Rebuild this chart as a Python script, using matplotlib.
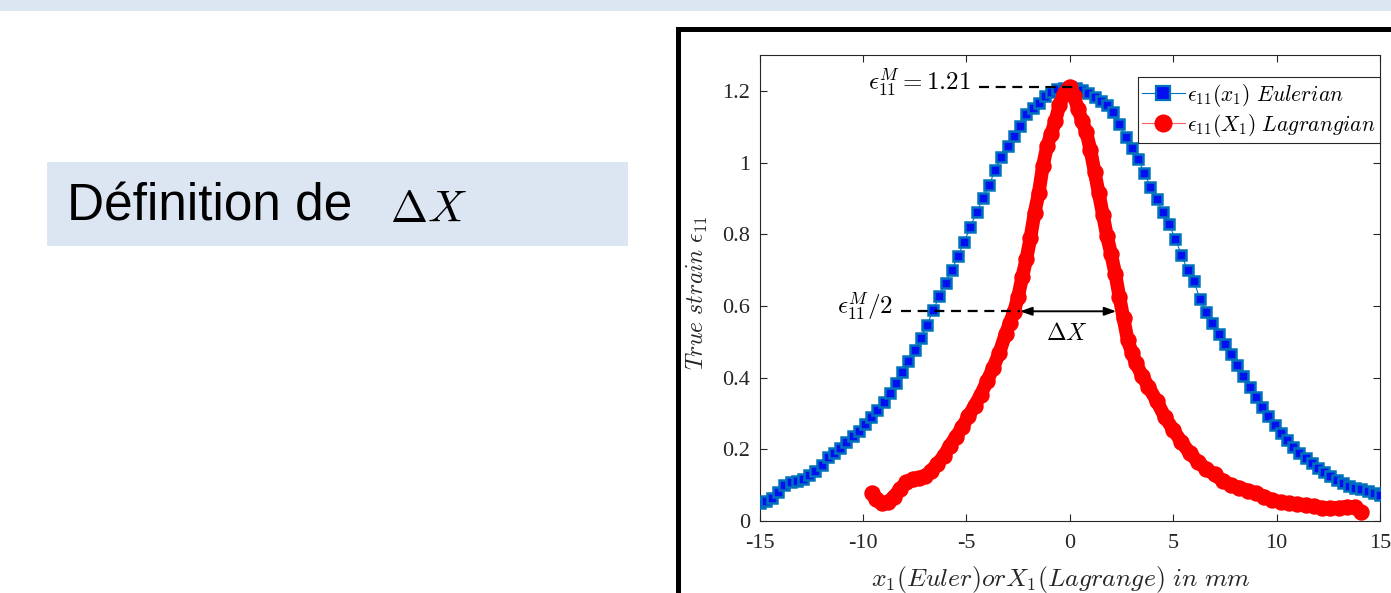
import numpy as np
import matplotlib
matplotlib.use("Agg")
import matplotlib.pyplot as plt
from matplotlib.patches import Rectangle
from matplotlib.lines import Line2D

plt.rcParams['mathtext.fontset'] = 'cm'
plt.rcParams['axes.unicode_minus'] = False

# ---------------- data ----------------
x_euler = [-15.0 + 0.3 * i for i in range(101)]
eps_euler = [
    0.050, 0.055, 0.065, 0.082, 0.100, 0.110, 0.112, 0.118, 0.128, 0.140,
    0.155, 0.178, 0.190, 0.203, 0.220, 0.236, 0.252, 0.270, 0.290, 0.311,
    0.333, 0.358, 0.385, 0.416, 0.446, 0.477, 0.510, 0.548, 0.588, 0.628,
    0.665, 0.700, 0.740, 0.779, 0.821, 0.862, 0.900, 0.937, 0.980, 1.015,
    1.045, 1.075, 1.101, 1.135, 1.152, 1.166, 1.185, 1.198, 1.205, 1.209,
    1.210, 1.208, 1.203, 1.195, 1.184, 1.172, 1.160, 1.142, 1.108, 1.072,
    1.040, 1.010, 0.972, 0.933, 0.898, 0.862, 0.828, 0.788, 0.742, 0.700,
    0.670, 0.618, 0.582, 0.551, 0.522, 0.493, 0.466, 0.436, 0.405, 0.374,
    0.346, 0.318, 0.293, 0.268, 0.246, 0.225, 0.206, 0.190, 0.175, 0.161,
    0.148, 0.136, 0.125, 0.114, 0.105, 0.099, 0.093, 0.088, 0.083, 0.078,
    0.073]

x_lagr = [-9.55, -9.35, -9.1, -8.8, -8.5, -8.2, -7.9, -7.6, -7.3, -7.0,
          -6.7, -6.4, -6.1, -5.8, -5.5, -5.2, -4.9, -4.6, -4.3, -4.0,
          -3.7, -3.4, -3.1, -2.9, -2.7, -2.5, -2.3, -2.1, -1.9, -1.7,
          -1.5, -1.3, -1.1, -0.9, -0.7, -0.5, -0.3, -0.1, 0.0,
          0.2, 0.4, 0.6, 0.8, 1.0, 1.2, 1.4, 1.6, 1.8, 2.0,
          2.2, 2.4, 2.6, 2.8, 3.0, 3.2, 3.5, 3.8, 4.2, 4.6,
          5.0, 5.4, 5.8, 6.2, 6.6, 7.0, 7.4, 7.8, 8.2, 8.6,
          9.0, 9.4, 9.8, 10.2, 10.6, 11.0, 11.4, 11.8, 12.2, 12.6,
          13.0, 13.4, 13.8, 14.1]
eps_lagr = [0.078, 0.060, 0.050, 0.052, 0.068, 0.090, 0.108, 0.118, 0.120, 0.125,
            0.140, 0.160, 0.180, 0.210, 0.235, 0.262, 0.292, 0.322, 0.352, 0.390,
            0.428, 0.470, 0.522, 0.552, 0.583, 0.625, 0.680, 0.730, 0.790, 0.860,
            0.915, 0.990, 1.045, 1.080, 1.115, 1.160, 1.190, 1.205, 1.212,
            1.185, 1.150, 1.115, 1.085, 1.035, 0.975, 0.915, 0.855, 0.795, 0.745,
            0.690, 0.625, 0.565, 0.505, 0.470, 0.440, 0.405, 0.375, 0.335, 0.290,
            0.255, 0.220, 0.190, 0.165, 0.145, 0.130, 0.112, 0.100, 0.093, 0.085,
            0.078, 0.068, 0.058, 0.053, 0.050, 0.047, 0.045, 0.041, 0.037, 0.036,
            0.037, 0.040, 0.038, 0.025]

eps_max = 1.21
half_level = 0.585          # drawn level of the eps_max/2 guide line
x_top_guide = (-4.4, 0.15)
x_half_guide = (-8.15, -2.4)
x_arrow = (-2.4, 2.25)

x_ticks = [-15, -10, -5, 0, 5, 10, 15]
y_ticks = [0, 0.2, 0.4, 0.6, 0.8, 1.0, 1.2]
y_ticklabels = ['0', '0.2', '0.4', '0.6', '0.8', '1', '1.2']

# ---------------- figure ----------------
W, H = 1391, 593
fig = plt.figure(figsize=(W / 100, H / 100), dpi=100)
fig.patch.set_facecolor('white')

def fx(px):
    return px / W

def fy(py):
    return 1 - py / H

slide_blue = '#DCE6F2'
# top strip
fig.patches.append(Rectangle((0, fy(11)), 1, 11 / H, transform=fig.transFigure,
                             facecolor=slide_blue, edgecolor='none', zorder=0))
# title box
fig.patches.append(Rectangle((fx(47), fy(246)), fx(628) - fx(47), (246 - 162) / H,
                             transform=fig.transFigure, facecolor=slide_blue,
                             edgecolor='none', zorder=0))
fig.text(fx(67), fy(207), 'Définition de', fontsize=37, family='Liberation Sans',
         va='center', ha='left', color='black')
fig.text(fx(390), fy(209), r'$\Delta X$', fontsize=32, va='center', ha='left',
         color='black')

# black frame around the figure image
fig.patches.append(Rectangle((fx(678), fy(620)), fx(1420) - fx(678), (620 - 28.5) / H,
                             transform=fig.transFigure, facecolor='none',
                             edgecolor='black', linewidth=3.6, zorder=1))

ax = fig.add_axes([fx(759.5), fy(521), fx(1380) - fx(759.5), (521 - 55) / H])
ax.set_xlim(-15, 15)
ax.set_ylim(0, 1.3)

ax.plot(x_euler, eps_euler, color='#0072BD', lw=0.8, marker='s', markersize=7.6,
        markerfacecolor='#0010F0', markeredgecolor='#0072BD', markeredgewidth=1.8,
        zorder=3)
ax.plot(x_lagr, eps_lagr, color='#FF0000', lw=9.8, solid_capstyle='round',
        solid_joinstyle='round', zorder=4)
ax.plot(x_lagr, eps_lagr, color='#FF0000', lw=0, marker='o', markersize=10.8,
        markerfacecolor='#FF0000', markeredgecolor='#FF0000', zorder=4)

# guides
ax.plot(list(x_top_guide), [eps_max, eps_max], color='black', lw=1.6,
        dashes=(4.5, 3), zorder=5)
ax.plot(list(x_half_guide), [half_level, half_level], color='black', lw=1.6,
        dashes=(4.5, 3), zorder=5)
ax.annotate('', xy=(x_arrow[1], half_level), xytext=(x_arrow[0], half_level),
            arrowprops=dict(arrowstyle='<|-|>,head_length=0.7,head_width=0.25',
                            color='black', lw=1.4, shrinkA=0, shrinkB=0), zorder=6)
ax.text(-4.75, 1.222, r'$\epsilon_{11}^{M}=1.21$', fontsize=18, ha='right',
        va='center', color='black', zorder=6)
ax.text(-8.55, 0.598, r'$\epsilon_{11}^{M}/2$', fontsize=18, ha='right',
        va='center', color='black', zorder=6)
ax.text(-0.15, 0.525, r'$\Delta X$', fontsize=17, ha='center', va='center',
        color='black', zorder=6)

# axes styling (MATLAB look)
tick_color = '#262626'
for sp in ax.spines.values():
    sp.set_linewidth(0.8)
    sp.set_color(tick_color)
ax.set_xticks(x_ticks)
ax.set_xticklabels([str(v) for v in x_ticks])
ax.set_yticks(y_ticks)
ax.set_yticklabels(y_ticklabels)
ax.tick_params(direction='in', length=5, width=0.8, colors=tick_color,
               top=True, right=True, labelsize=16)
ax.tick_params(axis='x', pad=9)
ax.tick_params(axis='y', pad=7)
for lab in ax.get_xticklabels() + ax.get_yticklabels():
    lab.set_family('Liberation Serif')

ax.set_xlabel(r'$x_1(Euler) or X_1(Lagrange)\ in\ mm$', fontsize=18.5, color=tick_color)
ax.set_ylabel(r'$True\ strain\ \epsilon_{11}$', fontsize=17, color=tick_color)
ax.xaxis.set_label_coords(0.485, -0.092)
ax.yaxis.set_label_coords(-0.08, 0.49)

handles = [
    Line2D([], [], color='#0072BD', lw=0.8, marker='s', markersize=9.5,
           markerfacecolor='#0010F0', markeredgecolor='#0072BD', markeredgewidth=1.6),
    Line2D([], [], color='#FF6060', lw=0.8, marker='o', markersize=12,
           markerfacecolor='#FF0000', markeredgecolor='#FF0000'),
]
labels = [r'$\epsilon_{11}(x_1)\ Eulerian$', r'$\epsilon_{11}(X_1)\ Lagrangian$']
leg = ax.legend(handles, labels, loc='upper right', bbox_to_anchor=(1.0, 0.952),
                borderaxespad=0, fontsize=15.5, frameon=True, fancybox=False,
                framealpha=1, edgecolor='#262626', handlelength=2.0,
                handletextpad=0.1, borderpad=0.2, labelspacing=0.15)
leg.get_frame().set_linewidth(0.8)
leg.set_zorder(10)

fig.savefig('out.png', dpi=100)
